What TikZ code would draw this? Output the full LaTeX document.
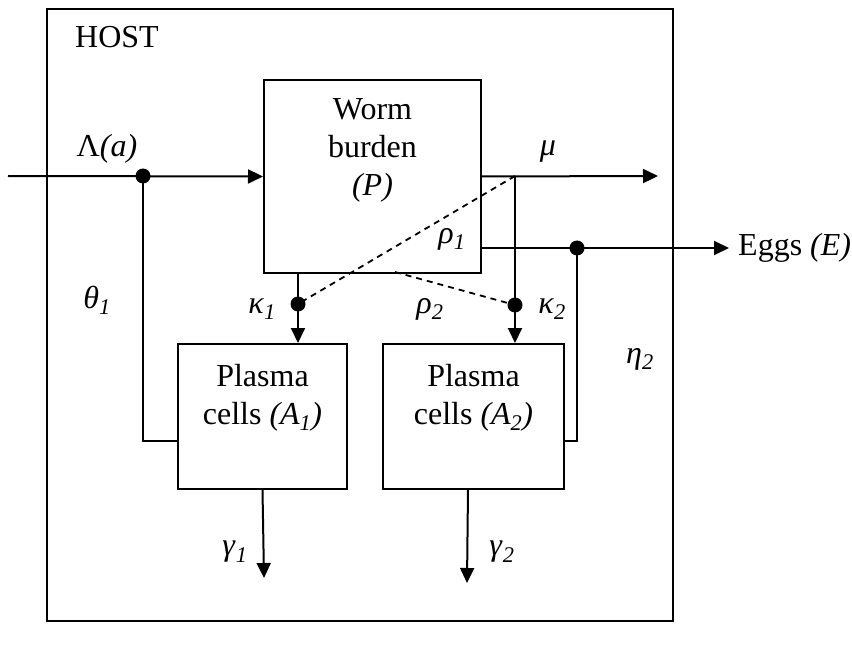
\documentclass[tikz,border=0pt]{standalone}
\usepackage{fontspec}
\setmainfont{Liberation Serif}
\usetikzlibrary{arrows.meta,positioning,calc}
\newcommand{\lbl}{\fontsize{32}{38}\selectfont}
\newcommand{\sbi}[1]{\textsubscript{\itshape #1}}
\tikzset{
  hostbox/.style  = {draw, anchor=north west, line width=2pt, inner sep=0pt},
  compart/.style  = {draw, anchor=north west, line width=2pt, inner sep=0pt},
  boxtext/.style  = {align=center, inner sep=0pt},
  flow/.style     = {-{Triangle[length=15pt,width=14pt]}, line width=2pt},
  link/.style     = {line width=2pt},
  infl/.style     = {line width=1.8pt, dash pattern=on 6pt off 5pt},
  joint/.style    = {circle, fill, inner sep=0pt, minimum size=15pt},
  ratelab/.style  = {inner sep=0pt},
}
\begin{document}
\begin{tikzpicture}[x=1pt, y=-1pt, font=\lbl]
  \useasboundingbox (0,0) rectangle (852,647);
  % host and compartments
  \node[hostbox, minimum width=626pt, minimum height=612pt] (host) at (46,8) {};
  \node[anchor=west, inner sep=0pt] (hostlab) at (75,37) {HOST};
  \node[compart, minimum width=217pt, minimum height=193pt] (worm) at (263,79) {};
  \node[boxtext, below=19pt of worm.north] (wormtxt) {Worm\\burden\\\textit{(P)}};
  \node[compart, minimum width=169pt, minimum height=145pt] (plasma1) at (177,343) {};
  \node[boxtext, below=21pt of plasma1.north] (plasma1txt) {Plasma\\cells \textit{(A\sbi{1})}};
  \node[compart, minimum width=181pt, minimum height=145pt] (plasma2) at (382,343) {};
  \node[boxtext, below=21pt of plasma2.north] (plasma2txt) {Plasma\\cells \textit{(A\sbi{2})}};
  \node[anchor=west, inner sep=1pt] (eggs) at (737,248) {Eggs \textit{(E)}};

  % junctions and free ends
  \coordinate (src)    at (8,176);
  \coordinate (musplit) at (515,176);
  \coordinate (muend)  at (658,176);
  \coordinate (rhotwo) at (395,272);
  \coordinate (g1end)  at (264,578);
  \coordinate (g2end)  at (467,583);
  \node[joint] (lam)   at (143,176) {};
  \node[joint] (k1)    at (298,304) {};
  \node[joint] (k2)    at (515,305) {};
  \node[joint] (eggsj) at (577,248) {};

  % flows
  \draw[flow] (src) -- (worm.west);
  \draw[link] (lam.center) |- ([yshift=-24.5pt]plasma1.west);
  \draw[flow] (worm.east) -- (muend);
  \draw[flow] (musplit) -- (musplit |- plasma2.north);
  \draw[flow, shorten >=8pt] (worm.east |- eggsj) -- (eggs.west);
  \draw[link] (eggsj.center) |- ([yshift=-24.5pt]plasma2.east);
  \draw[flow] (k1 |- worm.south) -- (k1 |- plasma1.north);
  \draw[flow] (plasma1.south) -- (g1end);
  \draw[flow] ([xshift=-5.5pt]plasma2.south) -- (g2end);
  \draw[infl] (musplit) -- (k1.center);
  \draw[infl] (rhotwo) -- (k2.center);

  % rates
  \node[ratelab] (lamlab) at (107,149) {Λ\textit{(a)}};
  \node[ratelab] (mulab)  at (548,152) {\textit{μ}};
  \node[ratelab] (r1lab)  at (452,239) {\textit{ρ}\sbi{1}};
  \node[ratelab] (k1lab)  at (262,309) {\textit{κ}\sbi{1}};
  \node[ratelab] (r2lab)  at (430,309) {\textit{ρ}\sbi{2}};
  \node[ratelab] (k2lab)  at (552,309) {\textit{κ}\sbi{2}};
  \node[ratelab] (thlab)  at (97,300)  {\textit{θ}\sbi{1}};
  \node[ratelab] (etlab)  at (640,359) {\textit{η}\sbi{2}};
  \node[ratelab] (g1lab)  at (235,552) {\textit{γ}\sbi{1}};
  \node[ratelab] (g2lab)  at (502,552) {\textit{γ}\sbi{2}};
\end{tikzpicture}
\end{document}
